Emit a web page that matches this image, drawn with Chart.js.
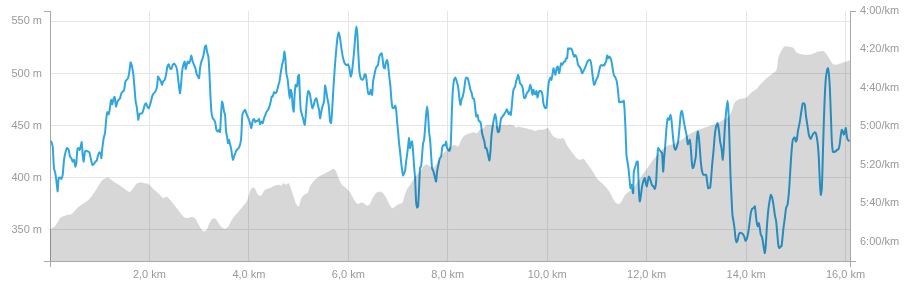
<!DOCTYPE html>
<html><head><meta charset="utf-8">
<script src="https://cdn.jsdelivr.net/npm/chart.js@4.4.1/dist/chart.umd.min.js"></script>
<style>html,body{margin:0;padding:0;background:#fff;}#c{display:block;}</style>
</head><body>
<canvas id="c" width="908" height="289"></canvas>
<script>
// Pace (seconds per km) along the distance (km)
const paceKm = [
0.027,0.054,0.080,0.107,0.134,0.154,0.174,0.201,0.228,0.255,
0.282,0.315,0.342,0.376,0.402,0.429,0.456,0.483,0.510,0.530,
0.550,0.570,0.597,0.617,0.637,0.657,0.677,0.704,0.731,0.765,
0.791,0.818,0.852,0.885,0.912,0.939,0.966,0.993,1.019,1.033,
1.053,1.080,1.106,1.133,1.153,1.180,1.200,1.220,1.234,1.254,
1.281,1.301,1.328,1.355,1.381,1.408,1.435,1.462,1.489,1.516,
1.542,1.569,1.596,1.623,1.650,1.677,1.703,1.723,1.744,1.764,
1.777,1.797,1.824,1.851,1.878,1.905,1.931,1.958,1.985,2.012,
2.039,2.059,2.086,2.119,2.153,2.173,2.200,2.226,2.253,2.273,
2.307,2.334,2.361,2.387,2.414,2.441,2.468,2.495,2.528,2.555,
2.575,2.595,2.615,2.635,2.656,2.682,2.709,2.729,2.750,2.770,
2.796,2.823,2.843,2.870,2.897,2.924,2.951,2.977,2.998,3.018,
3.045,3.071,3.091,3.118,3.138,3.158,3.185,3.205,3.226,3.246,
3.273,3.299,3.326,3.346,3.373,3.400,3.420,3.440,3.460,3.480,
3.500,3.521,3.541,3.561,3.581,3.601,3.621,3.641,3.661,3.681,
3.702,3.728,3.755,3.782,3.809,3.836,3.849,3.869,3.896,3.923,
3.950,3.976,
4.017,4.050,4.077,4.104,4.131,4.157,4.184,4.204,4.225,4.251,
4.278,4.305,4.332,4.359,4.386,4.412,4.439,4.459,4.479,4.506,
4.533,4.560,4.587,4.614,4.640,4.667,4.694,4.714,4.734,4.754,
4.781,4.801,4.821,4.841,4.862,4.882,4.902,4.922,4.942,4.969,
4.989,5.009,5.023,5.043,5.070,5.096,5.123,5.150,5.170,5.197,
5.224,5.251,5.277,5.304,5.331,5.358,5.385,5.411,5.432,5.458,
5.485,5.512,5.532,5.552,5.579,5.606,5.633,5.653,5.673,5.700,
5.727,5.754,5.780,5.807,5.834,5.861,5.888,5.914,5.941,5.968,
5.995,6.022,6.049,6.069,6.089,6.116,6.142,6.163,6.183,6.203,
6.223,6.250,6.277,6.303,6.330,6.350,6.370,6.397,6.424,6.451,
6.478,6.498,6.518,6.545,6.572,6.598,6.619,6.645,6.672,6.692,
6.712,6.733,6.753,6.780,6.800,6.820,6.847,6.867,6.887,6.914,
6.941,6.961,6.981,7.001,7.021,7.041,7.061,7.082,7.101,7.122,
7.142,7.162,7.182,7.202,7.222,7.242,7.262,7.282,7.303,7.323,
7.343,7.363,7.383,7.403,7.423,7.443,7.464,7.484,7.504,7.524,
7.544,7.564,7.584,7.604,7.624,7.645,7.665,7.685,7.712,7.738,
7.765,7.785,7.812,7.839,7.866,7.893,7.920,7.946,7.966,7.987,
8.007,8.034,
8.060,8.080,8.100,8.127,8.154,8.181,8.208,8.234,8.255,8.275,
8.301,8.328,8.355,8.375,8.402,8.429,8.456,8.483,8.503,8.529,
8.556,8.576,8.597,8.623,8.650,8.670,8.690,8.717,8.737,8.757,
8.778,8.798,8.818,8.838,8.858,8.878,8.898,8.925,8.952,8.972,
8.992,9.012,9.032,9.053,9.073,9.100,9.126,9.146,9.167,9.187,
9.207,9.227,9.247,9.267,9.287,9.307,9.327,9.354,9.374,9.395,
9.415,9.435,9.455,9.482,9.509,9.529,9.549,9.569,9.589,9.616,
9.636,9.656,9.683,9.703,9.723,9.743,9.763,9.784,9.804,9.824,
9.844,9.864,9.884,9.904,9.924,9.944,9.965,9.985,10.005,10.025,
10.045,10.065,10.085,10.105,10.126,10.146,10.166,10.193,10.213,10.240,
10.260,10.280,10.300,10.320,10.340,10.360,10.380,10.400,10.421,10.447,
10.474,10.501,10.521,10.541,10.568,10.595,10.622,10.649,10.675,10.702,
10.729,10.756,10.783,10.810,10.836,10.863,10.883,10.904,10.924,10.944,
10.964,10.984,11.004,11.024,11.044,11.064,11.084,11.105,11.125,11.145,
11.165,11.185,11.205,11.225,11.245,11.265,11.286,11.306,11.326,11.346,
11.373,11.400,11.426,11.447,11.473,11.494,11.520,11.540,11.554,11.574,
11.594,11.614,11.634,11.654,11.675,11.695,11.715,11.728,11.742,11.762,
11.782,11.802,11.822,11.842,11.862,11.882,11.903,11.923,11.943,11.963,
11.983,12.003,12.023,12.043,12.064,
12.110,12.137,12.164,12.191,12.211,12.231,12.258,12.285,12.311,12.332,
12.352,12.372,12.399,12.425,12.452,12.479,12.499,12.526,12.553,12.580,
12.607,12.633,12.660,12.687,12.707,12.727,12.754,12.781,12.808,12.828,
12.848,12.868,12.888,12.908,12.928,12.949,12.969,12.989,13.009,13.029,
13.049,13.069,13.089,13.116,13.143,13.170,13.197,13.217,13.237,13.257,
13.277,13.297,13.317,13.344,13.371,13.398,13.425,13.452,13.478,13.505,
13.532,13.552,13.572,13.599,13.626,13.646,13.666,13.686,13.706,13.726,
13.747,13.767,13.787,13.807,13.827,13.854,13.881,13.907,13.934,13.961,
13.988,14.015,14.042,14.069,14.095,14.122,14.149,14.176,14.196,14.216,
14.236,14.256,14.276,14.296,14.317,14.337,14.357,14.377,14.397,14.417,
14.444,14.471,14.498,14.524,14.551,14.578,14.605,14.632,14.652,14.672,
14.692,14.712,14.732,14.752,14.779,14.806,14.833,14.860,14.880,14.900,
14.920,14.940,14.960,14.980,15.001,15.021,15.041,15.061,15.081,15.101,
15.121,15.141,15.161,15.182,15.202,15.222,15.242,15.262,15.282,15.302,
15.322,15.343,15.363,15.383,15.403,15.423,15.443,15.463,15.483,15.503,
15.524,15.544,15.564,15.584,15.604,15.624,15.644,15.664,15.685,15.705,
15.725,15.745,15.765,15.785,15.805,15.825,15.846,15.866,15.886,15.906,
15.926,15.946,15.966,15.986,16.006,16.027,16.047,16.067
];
const paceSec = [
307.9,310.5,321.7,324.3,329.5,333.8,326.9,326.6,327.3,325.2,
317.4,313.1,311.3,312.2,315.7,316.5,318.3,317.4,320.9,319.1,
312.2,311.3,312.2,310.5,308.2,314.8,318.3,313.1,312.7,313.1,
313.4,316.5,320.0,319.5,318.3,317.9,315.1,313.4,314.4,316.5,
311.3,306.1,303.5,295.8,292.6,293.7,291.4,287.4,286.2,288.5,
285.4,284.7,289.7,287.1,286.2,285.4,282.8,281.9,281.2,276.7,
275.8,275.0,271.5,266.7,268.9,273.2,281.0,287.1,289.7,294.0,
296.6,293.7,293.3,293.3,291.4,288.8,288.0,289.7,290.6,288.8,
286.2,284.0,282.8,281.9,279.3,274.1,275.3,276.4,278.4,276.7,
275.8,273.2,268.9,267.7,269.8,270.1,268.1,267.4,268.4,270.6,
275.0,279.3,282.8,278.4,271.5,268.1,266.3,270.1,268.1,266.3,
267.2,265.5,263.2,266.3,268.1,269.8,272.9,274.1,275.0,269.8,
266.3,264.6,262.5,258.5,258.0,261.1,263.7,271.5,283.6,292.3,
295.8,296.6,298.3,301.8,302.7,301.8,303.0,294.0,287.1,288.8,
292.3,294.0,302.7,305.3,308.7,307.0,309.3,311.3,314.8,317.4,
315.7,313.9,312.2,311.7,310.5,307.9,304.4,294.0,292.3,291.4,
293.2,294.9,
297.8,300.9,297.1,296.1,297.8,297.1,297.1,296.1,298.9,297.5,
298.3,295.8,294.0,292.3,291.4,289.7,287.1,284.5,284.5,282.2,
282.8,281.9,279.3,276.7,272.4,268.1,265.5,261.1,264.6,272.4,
275.8,281.0,285.4,281.0,282.8,289.7,292.3,282.8,278.4,279.3,
274.1,273.2,281.9,291.4,294.0,296.6,299.2,292.3,285.4,281.6,
282.8,287.1,290.6,288.8,286.2,285.4,288.5,291.4,295.8,292.3,
289.2,287.1,278.8,281.0,285.4,289.2,297.5,298.3,292.3,280.2,
269.8,261.1,254.2,251.1,254.2,259.4,263.7,266.3,267.7,268.1,
267.7,269.8,274.1,272.4,268.1,261.1,252.5,248.1,252.5,262.9,
271.5,275.0,275.8,275.3,272.9,273.2,276.7,282.8,283.3,281.0,
283.6,276.7,274.1,270.6,268.9,268.1,264.2,262.5,262.0,265.5,
269.4,269.8,267.2,265.5,268.1,273.2,279.3,286.2,290.2,290.6,
289.2,291.1,297.5,302.7,308.7,313.1,318.3,322.6,325.5,324.3,
323.1,318.3,314.8,310.5,306.1,311.3,308.7,307.9,313.1,320.9,
326.9,339.0,342.2,341.6,332.1,321.4,320.9,314.8,308.7,307.0,
300.9,294.0,289.7,294.0,302.7,307.0,314.8,321.7,323.5,326.1,
328.7,323.5,320.0,316.5,315.7,310.5,309.6,309.9,307.9,311.3,
312.2,312.7,
309.6,294.0,281.9,275.8,274.6,276.7,279.3,285.4,288.8,286.2,
284.5,281.0,275.8,274.6,275.0,277.6,281.0,282.8,285.4,285.7,
291.4,294.9,294.0,297.1,297.5,299.2,303.5,306.1,307.9,311.3,
311.3,313.4,315.7,317.7,313.1,305.3,300.9,296.6,293.7,295.8,
300.9,303.0,302.7,299.2,295.8,294.9,294.0,293.2,292.3,291.1,
292.3,293.7,292.6,294.0,289.7,283.6,280.5,279.3,276.7,275.0,
273.2,275.0,277.6,278.4,280.2,284.5,285.4,284.5,282.8,281.9,
281.0,278.4,280.5,283.6,281.0,282.8,283.3,281.6,285.0,282.8,
281.6,281.6,281.9,283.6,288.0,289.7,290.6,290.2,284.5,278.4,
275.8,274.6,275.8,273.2,269.8,271.5,273.2,269.4,268.9,272.4,
269.8,267.2,268.1,267.2,266.3,266.3,264.6,264.6,259.4,259.7,
259.4,260.3,262.5,263.7,262.9,264.6,268.1,268.9,270.1,272.4,
271.2,269.8,268.1,266.3,265.5,265.5,267.2,271.5,275.8,278.4,
277.6,275.8,275.0,273.6,271.2,268.9,268.1,268.4,268.1,268.4,
267.2,266.3,263.2,264.6,263.7,264.2,265.5,268.1,271.5,273.6,
274.6,276.7,281.9,287.4,287.4,287.1,287.4,286.7,290.6,300.9,
314.8,318.3,321.7,326.9,332.1,330.4,333.0,334.7,323.5,321.7,
320.0,318.3,318.3,332.1,339.0,336.4,332.1,329.5,327.8,326.9,
329.5,331.2,328.7,326.1,326.9,
330.7,331.2,332.5,328.7,318.3,311.3,312.2,313.1,313.9,323.5,
316.5,310.5,300.9,295.8,296.6,294.0,296.6,304.4,310.5,312.2,
310.5,307.9,300.9,293.2,291.9,294.0,298.3,301.8,305.3,309.3,
308.2,307.0,311.3,318.3,321.7,320.9,318.3,315.7,307.0,302.7,
305.3,311.3,318.3,323.5,325.2,325.2,325.2,328.7,332.1,332.1,
331.8,326.9,320.0,313.1,304.4,300.1,298.3,301.8,307.9,311.3,
317.4,310.5,300.9,292.3,286.7,292.3,307.9,325.2,336.4,346.0,
349.4,352.9,358.1,360.2,359.5,356.3,355.3,355.5,356.0,357.2,
359.5,358.4,355.5,350.3,345.1,342.8,342.5,341.6,346.0,350.3,
352.0,350.3,352.9,356.3,357.2,359.8,363.3,365.9,361.5,352.9,
344.2,339.0,335.6,337.0,340.8,346.0,349.4,357.2,362.4,363.3,
362.4,362.4,358.1,352.9,347.7,342.2,340.8,334.7,326.9,318.3,
311.3,307.0,306.1,305.8,307.9,307.0,302.7,300.1,297.5,294.0,
290.6,288.0,288.0,288.8,294.0,297.5,300.9,304.4,305.8,306.5,
305.3,304.1,303.5,303.0,303.5,305.8,309.6,316.5,328.7,335.6,
332.1,314.8,297.5,283.6,275.0,271.5,269.8,272.4,280.2,294.0,
307.9,313.1,313.4,313.1,313.1,312.2,312.2,311.3,308.7,304.4,
301.8,302.7,304.4,302.7,300.9,305.3,307.0,307.5
];

// Elevation (m) along the distance (km)
const elevKm = [
0,0.094,0.161,0.215,0.295,0.376,0.429,0.483,0.563,0.630,
0.711,0.778,0.845,0.912,0.979,1.046,1.113,1.167,1.234,1.301,
1.368,1.435,1.502,1.569,1.623,1.677,1.730,1.811,1.905,1.985,
2.052,2.119,2.200,2.280,2.347,2.414,2.495,2.575,2.642,2.709,
2.776,2.857,2.924,2.991,3.045,3.098,3.152,3.205,3.272,3.326,
3.380,3.447,3.514,3.581,3.648,3.715,3.796,3.876,3.957,
3.983,4.037,4.090,4.131,4.184,4.251,4.305,4.372,4.426,4.479,
4.533,4.600,4.654,4.694,4.748,4.801,4.855,4.909,4.949,5.002,
5.056,5.110,5.177,5.230,5.297,5.365,5.432,5.499,5.566,5.633,
5.700,5.754,5.807,5.874,5.941,6.008,6.062,6.129,6.196,6.250,
6.303,6.370,6.424,6.491,6.558,6.625,6.692,6.746,6.813,6.880,
6.947,7.014,7.081,7.121,7.175,7.242,7.309,7.376,7.443,7.510,
7.578,7.645,7.712,7.779,7.846,7.913,7.980,
8.006,8.073,8.141,8.208,8.261,8.315,8.382,8.449,8.516,8.583,
8.650,8.717,8.784,8.851,8.918,8.985,9.053,9.120,9.187,9.254,
9.321,9.374,9.428,9.495,9.562,9.629,9.696,9.763,9.830,9.898,
9.965,10.018,10.059,10.126,10.193,10.260,10.327,10.394,10.461,10.528,
10.595,10.662,10.729,10.796,10.863,10.930,10.997,11.064,11.131,11.198,
11.266,11.333,11.386,11.440,11.494,11.547,11.601,11.668,11.735,11.802,
11.869,11.936,12.003,12.070,
12.130,12.231,12.332,12.432,12.533,12.633,12.734,12.835,12.935,13.036,
13.136,13.237,13.337,13.438,13.539,13.639,13.706,13.773,13.874,13.974,
14.042,14.109,14.209,14.310,14.410,14.511,14.612,14.645,14.699,14.766,
14.846,14.947,15.014,15.114,15.215,15.316,15.416,15.517,15.584,15.664,
15.752,15.852,15.953,16.053,16.09
];
const elevM = [
350.5,353.2,358.0,361.8,363.4,364.4,365.0,367.6,371.4,374.0,
376.5,378.8,382.6,387.4,392.5,397.3,399.5,400.2,397.9,395.4,
393.8,391.6,389.3,386.8,386.8,390.0,393.8,395.4,394.7,393.8,
390.6,387.4,384.2,380.4,382.0,378.8,374.0,369.2,365.0,361.8,
361.2,362.5,360.5,354.8,350.6,348.4,350.0,356.4,360.5,360.5,
357.3,352.6,351.0,352.9,358.6,363.4,367.6,372.4,377.2,
381.0,388.4,390.6,389.0,383.6,382.9,387.4,389.3,390.0,391.6,
392.5,393.2,392.5,394.7,393.2,394.7,388.4,380.4,374.9,372.4,
380.4,383.6,385.2,391.6,396.3,399.5,401.8,403.4,405.0,406.6,
408.5,405.9,399.5,393.2,390.6,387.4,383.6,377.8,374.6,376.2,
375.6,373.3,374.0,380.4,385.2,386.8,385.2,382.0,375.6,370.8,
372.4,374.6,375.6,381.0,388.4,393.2,397.9,402.7,405.9,410.7,
413.0,410.7,409.8,413.9,418.7,423.5,426.7,
428.9,429.9,431.5,429.9,435.3,439.5,441.7,442.7,443.6,442.7,
445.9,447.5,450.7,450.7,450.7,449.1,450.0,450.7,450.0,450.7,
450.0,448.1,449.1,448.1,447.5,446.8,445.9,444.9,445.9,445.9,
446.8,447.5,444.3,439.5,437.9,437.3,437.9,431.5,426.7,422.6,
418.7,417.1,418.1,413.9,409.8,405.0,399.5,396.3,393.2,390.0,
385.2,378.8,375.6,374.6,377.2,382.0,385.2,387.4,390.6,394.7,
399.5,404.3,408.5,413.0,
417.1,422.6,427.7,430.9,432.1,434.7,437.3,441.1,443.6,445.9,
447.5,449.1,450.7,452.3,455.5,457.7,463.5,472.4,475.6,476.3,
478.5,481.7,485.2,490.6,495.4,499.3,503.4,514.6,521.0,525.8,
525.8,524.8,520.4,518.4,517.8,518.4,520.4,521.6,520.4,515.2,
508.9,508.9,510.5,512.1,513.0
];

// Axis ranges and tick values
const xRange = [0, 16.09];
const xTickValues = [2, 4, 6, 8, 10, 12, 14, 16];
const elevRange = [320, 560];
const elevTickValues = [350, 400, 450, 500, 550];
const paceRange = [240, 370];
const paceTickValues = [240, 260, 280, 300, 320, 340, 360];

const AXIS = '#a9a9a9', GRID = '#e6e6e6', TXT = '#9a9a9a';
const FONT = { family: "'Liberation Sans', Arial, Helvetica, sans-serif", size: 11 };
const CLEAR = 'rgba(0,0,0,0)';

function isEnd(ctx) { const n = ctx.scale.ticks.length; return ctx.index === 0 || ctx.index === n - 1; }
const endsOnly = c => ctx => isEnd(ctx) ? c : CLEAR;
const innerOnly = c => ctx => isEnd(ctx) ? CLEAR : c;
function tickSetter(values, range) {
  return scale => {
    const all = [range[0]].concat(values.filter(v => v !== range[0] && v !== range[1]), [range[1]]);
    scale.ticks = all.map(value => ({ value }));
  };
}
function labeler(fmt) { return (v, i, ticks) => (i === 0 || i === ticks.length - 1) ? '' : fmt(v); }
const fmtKm = v => v.toFixed(1).replace('.', ',') + ' km';
const fmtM = v => v + ' m';
const fmtPace = v => Math.floor(v / 60) + ':' + String(Math.round(v % 60)).padStart(2, '0') + '/km';

new Chart(document.getElementById('c'), {
  type: 'line',
  data: {
    datasets: [
      {
        label: 'Höhe',
        data: elevKm.map((x, i) => ({ x, y: elevM[i] })),
        xAxisID: 'x', yAxisID: 'yElev',
        borderWidth: 0, borderColor: CLEAR,
        backgroundColor: 'rgba(0,0,0,0.155)',
        fill: 'start', pointRadius: 0, tension: 0.3
      },
      {
        label: 'Pace',
        data: paceKm.map((x, i) => ({ x, y: paceSec[i] })),
        xAxisID: 'x', yAxisID: 'yPace',
        borderColor: '#2fa6df', borderWidth: 2,
        borderJoinStyle: 'round', borderCapStyle: 'round',
        fill: false, pointRadius: 0, tension: 0.2
      }
    ]
  },
  options: {
    responsive: false,
    animation: false,
    events: [],
    layout: { padding: { top: 11, left: 0, right: 0, bottom: 0 } },
    plugins: { legend: { display: false }, tooltip: { enabled: false } },
    scales: {
      x: {
        type: 'linear', position: 'bottom', min: xRange[0], max: xRange[1],
        afterBuildTicks: tickSetter(xTickValues, xRange),
        afterFit: s => { s.height = 28; },
        grid: { color: innerOnly(GRID), tickColor: endsOnly(AXIS), tickLength: 6, drawTicks: true },
        border: { color: AXIS, width: 1 },
        ticks: { autoSkip: false, maxRotation: 0, minRotation: 0, padding: 1, color: TXT, font: FONT, callback: labeler(fmtKm) }
      },
      yElev: {
        type: 'linear', position: 'left', min: elevRange[0], max: elevRange[1],
        afterBuildTicks: tickSetter(elevTickValues, elevRange),
        afterFit: s => { s.width = 50; },
        grid: { color: innerOnly(GRID), tickColor: endsOnly(AXIS), tickLength: 6, drawTicks: true },
        border: { color: AXIS, width: 1 },
        ticks: { autoSkip: false, padding: 2, color: TXT, font: FONT, callback: labeler(fmtM) }
      },
      yPace: {
        type: 'linear', position: 'right', reverse: true, min: paceRange[0], max: paceRange[1],
        afterBuildTicks: scale => {
          const all = paceTickValues.concat([paceRange[1]]);
          scale.ticks = all.map(value => ({ value }));
        },
        afterFit: s => { s.width = 58; },
        grid: { drawOnChartArea: false, tickColor: endsOnly(AXIS), tickLength: 6, drawTicks: true },
        border: { color: AXIS, width: 1 },
        ticks: { autoSkip: false, padding: 4, color: TXT, font: FONT,
          callback: (v, i, ticks) => (i === ticks.length - 1) ? '' : fmtPace(v) }
      }
    }
  }
});
</script>
</body></html>
